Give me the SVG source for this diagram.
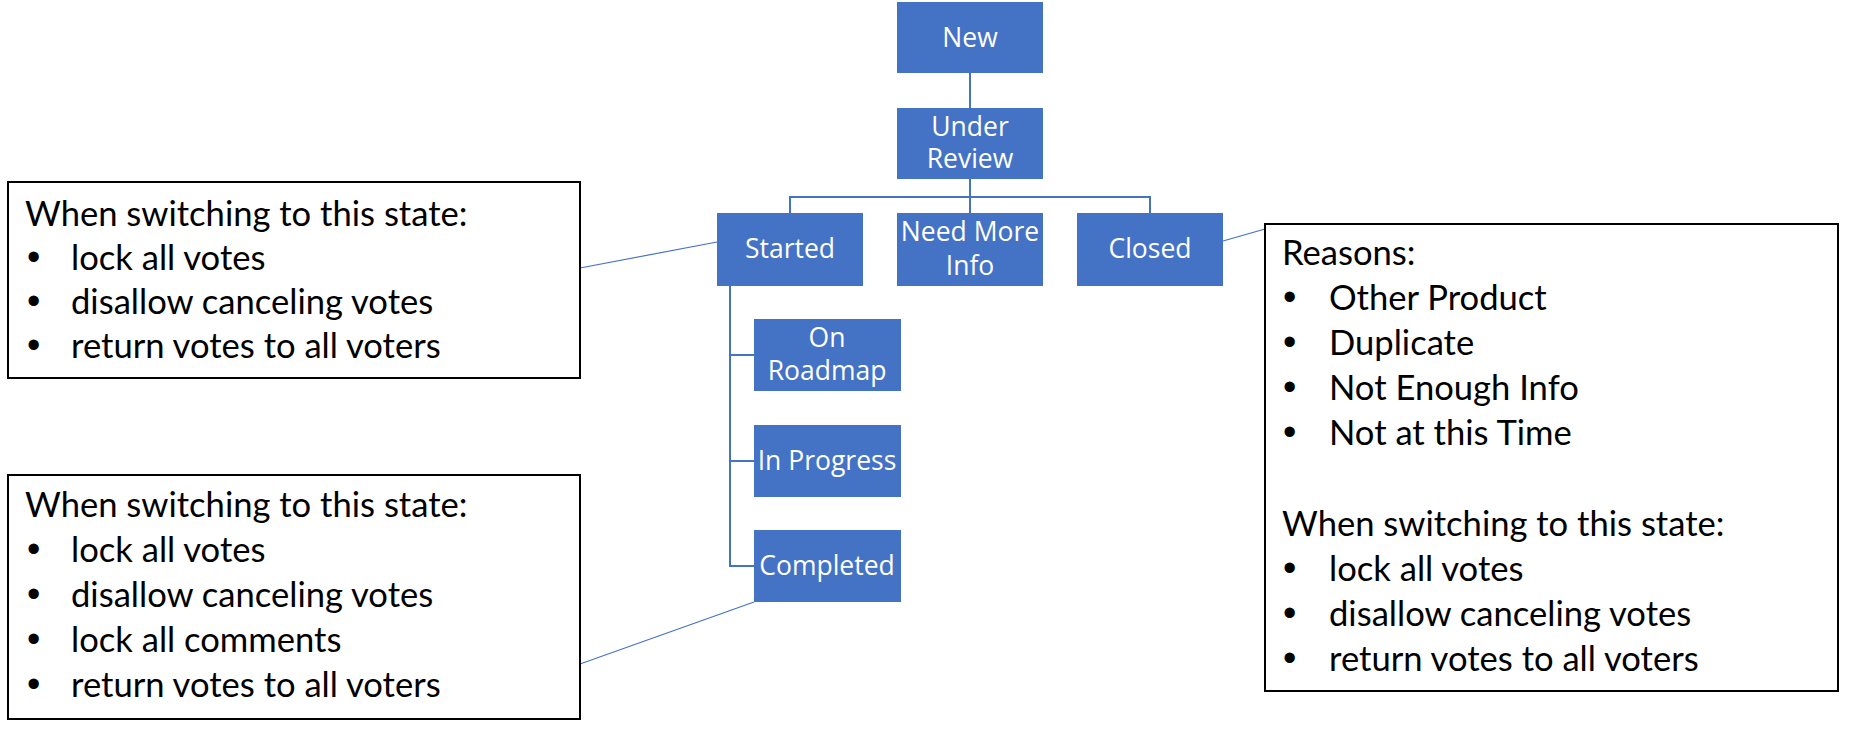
<svg xmlns="http://www.w3.org/2000/svg" width="1875" height="731" viewBox="0 0 1875 731">
<style>
.node rect{fill:#4472C4;}
.node text{fill:#fff;font-family:"Open Sans","Liberation Sans",sans-serif;font-size:26.5px;text-anchor:middle;}
.tree{stroke:#4472C4;stroke-width:2;fill:none;}
.call{stroke:#4472C4;stroke-width:1.2;fill:none;}
.note rect{fill:#fff;stroke:#000;stroke-width:2;}
.note text{fill:#000;font-family:Lato,"Liberation Sans",sans-serif;font-size:34.6px;}
.note text.b{font-family:"Liberation Sans",sans-serif;font-size:38px;}
</style>
<rect width="1875" height="731" fill="#fff"/>
<g id="connectors">
<path class="tree" d="M970 73V108"/>
<path class="tree" d="M970 179V213M790 213V197H1150V213"/>
<path class="tree" d="M730 286V566H754M730 355H754M730 461H754"/>
<path class="call" d="M580 268L717 242"/>
<path class="call" d="M580 664L754 602"/>
<path class="call" d="M1223 241L1265 229"/>
</g>
<g id="n-new" class="node"><rect x="897" y="2" width="146" height="71"/><text x="970" y="47">New</text></g>
<g id="n-review" class="node"><rect x="897" y="108" width="146" height="71"/><text x="970" y="136">Under<tspan x="970" dy="32">Review</tspan></text></g>
<g id="n-started" class="node"><rect x="717" y="213" width="146" height="73"/><text x="790" y="258">Started</text></g>
<g id="n-needinfo" class="node"><rect x="897" y="213" width="146" height="73"/><text x="970" y="241">Need More<tspan x="970" dy="34">Info</tspan></text></g>
<g id="n-closed" class="node"><rect x="1077" y="213" width="146" height="73"/><text x="1150" y="258">Closed</text></g>
<g id="n-roadmap" class="node"><rect x="754" y="319" width="147" height="72"/><text x="827" y="347">On<tspan x="827" dy="33">Roadmap</tspan></text></g>
<g id="n-progress" class="node"><rect x="754" y="425" width="147" height="72"/><text x="827" y="470">In Progress</text></g>
<g id="n-completed" class="node"><rect x="754" y="530" width="147" height="72"/><text x="827" y="575">Completed</text></g>
<g id="note-started" class="note"><rect x="8" y="182" width="572" height="196"/>
<text x="25" y="226">When switching to this state:</text>
<text class="b" x="27" y="270">•</text><text x="71" y="270">lock all votes</text>
<text class="b" x="27" y="314">•</text><text x="71" y="314">disallow canceling votes</text>
<text class="b" x="27" y="358">•</text><text x="71" y="358">return votes to all voters</text>
</g>
<g id="note-completed" class="note"><rect x="8" y="475" width="572" height="244"/>
<text x="25" y="517">When switching to this state:</text>
<text class="b" x="27" y="562">•</text><text x="71" y="562">lock all votes</text>
<text class="b" x="27" y="607">•</text><text x="71" y="607">disallow canceling votes</text>
<text class="b" x="27" y="652">•</text><text x="71" y="652">lock all comments</text>
<text class="b" x="27" y="697">•</text><text x="71" y="697">return votes to all voters</text>
</g>
<g id="note-closed" class="note"><rect x="1265" y="224" width="573" height="467"/>
<text x="1282" y="265">Reasons:</text>
<text class="b" x="1283" y="310">•</text><text x="1329" y="310">Other Product</text>
<text class="b" x="1283" y="355">•</text><text x="1329" y="355">Duplicate</text>
<text class="b" x="1283" y="400">•</text><text x="1329" y="400">Not Enough Info</text>
<text class="b" x="1283" y="445">•</text><text x="1329" y="445">Not at this Time</text>
<text x="1282" y="536">When switching to this state:</text>
<text class="b" x="1283" y="581">•</text><text x="1329" y="581">lock all votes</text>
<text class="b" x="1283" y="626">•</text><text x="1329" y="626">disallow canceling votes</text>
<text class="b" x="1283" y="671">•</text><text x="1329" y="671">return votes to all voters</text>
</g>
</svg>
